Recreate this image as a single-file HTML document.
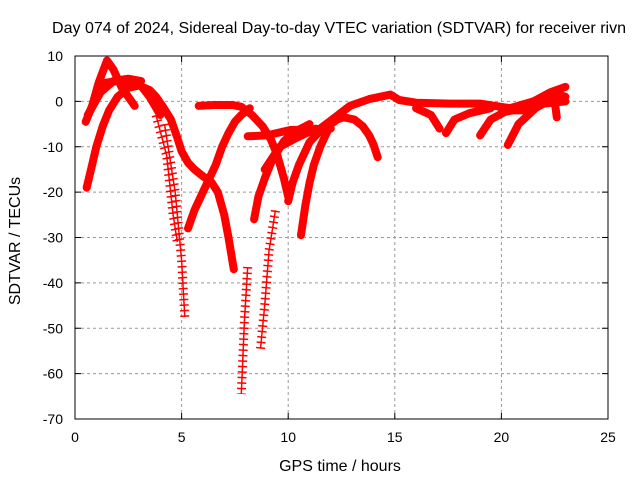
<!DOCTYPE html>
<html><head><meta charset="utf-8"><style>
body{margin:0;background:#fff}
svg{display:block;font-family:"Liberation Sans",sans-serif}
</style></head><body>
<svg id="chart" width="640" height="480" viewBox="0 0 640 480">
<text x="339" y="33" font-size="16" text-anchor="middle" textLength="574">Day 074 of 2024, Sidereal Day-to-day VTEC variation (SDTVAR) for receiver rivn</text>
<text x="340" y="471" font-size="16" text-anchor="middle">GPS time / hours</text>
<text transform="translate(20,241) rotate(-90)" font-size="16" text-anchor="middle">SDTVAR / TECUs</text>
<g id="grid"></g><g id="series"></g><g id="axes"></g>
</svg>
<script>
const xTicks=[0,5,10,15,20,25];
const yTicks=[10,0,-10,-20,-30,-40,-50,-60,-70];
// thick (dense) tracks: [hours, TECU]
const trackA=[[0.55,-19],[0.8,-14],[1.0,-10],[1.3,-5.5],[1.6,-2],[2.0,1],[2.5,3],[3.0,3.5],[3.5,2.5],[3.8,1],[4.1,-1],[4.5,-4],[4.8,-8],[5.0,-11],[5.3,-13.5],[5.6,-15],[6.0,-16.5],[6.4,-17.8],[6.7,-20],[7.0,-25],[7.2,-30],[7.45,-37]];
const trackB=[[0.5,-4.5],[0.8,-1],[1.1,4],[1.5,9],[1.8,7],[2.2,3],[2.8,-1]];
const trackC=[[0.6,-3],[0.9,-0.5],[1.2,2],[1.8,4.5],[2.5,5],[3.1,4.5]];
const trackD=[[1.3,4],[2.0,4.5],[3.0,4],[3.5,1],[4.0,-3]];
const trackE=[[5.3,-28],[5.6,-24],[6.0,-20],[6.3,-17],[6.6,-14],[6.9,-10],[7.2,-7],[7.5,-4.5],[7.8,-3],[8.2,-1.5]];
const trackF=[[5.8,-1],[6.5,-0.8],[7.4,-0.8],[7.8,-1.2],[8.3,-3],[8.8,-5.5],[9.2,-8.5],[9.5,-12],[9.8,-17],[10.0,-21]];
const trackG=[[8.1,-7.7],[9.0,-7.5],[10.1,-6.3],[11.0,-6.2],[12.0,-6]];
const trackH=[[8.4,-26],[8.6,-21],[8.9,-17],[9.2,-13.5],[9.5,-11],[9.8,-8.8],[10.2,-7],[11.0,-5]];
const trackI=[[10.0,-22],[10.2,-18],[10.5,-14],[11.0,-9],[11.7,-5.5],[12.5,-3]];
const trackJ=[[10.6,-29.5],[10.8,-23],[11.0,-18],[11.2,-14],[11.5,-10],[11.8,-7],[12.0,-5],[12.4,-2.8],[12.9,-1]];
const trackK=[[8.9,-15],[9.6,-10],[10.4,-8],[11.3,-6]];
const trackL=[[11.5,-6],[12.2,-3.5],[12.9,-1],[13.8,0.5],[14.8,1.5],[15.2,0.3],[16.0,-0.3],[17.6,-0.5],[19.0,-0.5],[20.4,-1.5],[21.5,0],[22.3,2],[23.0,3.2]];
const trackM=[[12.0,-5],[12.3,-4],[12.6,-3.5],[13.1,-4],[13.5,-5.5],[13.8,-7.5],[14.0,-9.5],[14.2,-12.3]];
const trackN=[[16.0,-1.5],[16.7,-3],[17.1,-6]];
const trackO=[[17.4,-7],[17.8,-4],[18.5,-2.6],[19.5,-1.5]];
const trackP=[[19.0,-7.5],[19.5,-4],[20.3,-2],[21.0,-2]];
const trackQ=[[20.3,-9.6],[20.8,-5],[21.6,-1.5],[22.7,1.5],[23.0,1]];
const trackR=[[20.0,-2.5],[21.0,-1.5],[22.0,-0.5],[23.0,0]];
const trackS=[[22.0,1],[22.5,0],[22.6,-3.5]];
// sparse marker tails
const tail1=[[3.8,-3],[4.3,-12],[4.6,-25],[4.8,-31]];
const tail2=[[4.2,-5],[4.7,-20],[5.0,-35],[5.15,-47.5]];
const tail3=[[8.1,-36.5],[7.95,-48],[7.8,-64.5]];
const tail4=[[8.7,-54.5],[8.9,-45],[9.1,-33],[9.4,-24]];

const X0=75,X1=608,Y0=419,Y1=56;
const xS=v=>X0+(v-0)/25*(X1-X0);
const yS=v=>Y0-(v+70)/80*(Y0-Y1);
const NS="http://www.w3.org/2000/svg";
const grid=document.getElementById('grid'),axes=document.getElementById('axes'),ser=document.getElementById('series');
function mk(t,a,p){const e=document.createElementNS(NS,t);for(const k in a)e.setAttribute(k,a[k]);p.appendChild(e);return e;}
xTicks.forEach(v=>{const x=xS(v);
 if(v>0&&v<25){const g=mk('line',{x1:x,x2:x,y1:Y0,y2:Y1,stroke:'#999','stroke-dasharray':'3 3'},grid);
 
 }
 mk('line',{x1:x,x2:x,y1:Y0,y2:Y0-6,stroke:'#000'},axes);mk('line',{x1:x,x2:x,y1:Y1,y2:Y1+6,stroke:'#000'},axes);
 const t=mk('text',{x:x,y:Y0+23,'font-size':14,'text-anchor':'middle'},axes);t.textContent=v;
 
 });
yTicks.forEach(v=>{const y=yS(v);
 if(v>-70&&v<10){const g=mk('line',{x1:X0,x2:X1,y1:y,y2:y,stroke:'#999','stroke-dasharray':'3 3'},grid);
 
 }
 mk('line',{x1:X0,x2:X0+6,y1:y,y2:y,stroke:'#000'},axes);mk('line',{x1:X1,x2:X1-6,y1:y,y2:y,stroke:'#000'},axes);
 const t=mk('text',{x:X0-12,y:y+5,'font-size':14,'text-anchor':'end'},axes);t.textContent=v;
 
 });
const fr=mk('rect',{x:X0,y:Y1,width:X1-X0,height:Y0-Y1,fill:'none',stroke:'#000'},axes);


const pts=a=>a.map(p=>xS(p[0]).toFixed(1)+','+yS(p[1]).toFixed(1)).join(' ');
[trackA,trackB,trackC,trackD,trackE,trackF,trackG,trackH,trackI,trackJ,trackK,trackL,trackM,trackN,trackO,trackP,trackQ,trackR,trackS].forEach(tr=>{
 const l=mk('polyline',{points:pts(tr),fill:'none',stroke:'#f00','stroke-width':8,'stroke-linejoin':'round','stroke-linecap':'round'},ser);
 
 });
[tail1,tail2,tail3,tail4].forEach(tr=>{
 const l=mk('polyline',{points:pts(tr),fill:'none',stroke:'#f00','stroke-width':1.5},ser);
 
 
 mk('polyline',{points:pts(tr),fill:'none',stroke:'#f00','stroke-width':9,'stroke-dasharray':'1.5 4'},ser);});
</script>
</body></html>
